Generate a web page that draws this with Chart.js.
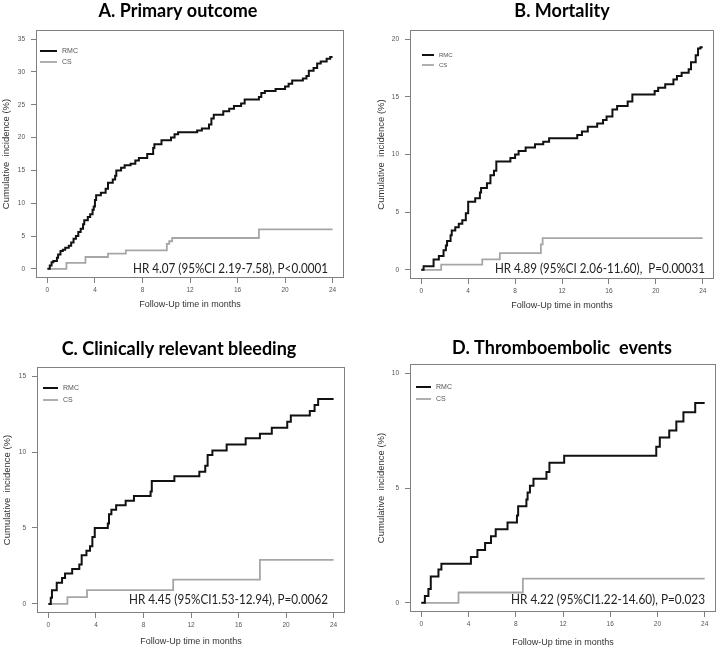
<!DOCTYPE html>
<html lang="en">
<head>
<meta charset="UTF-8">
<title>Cumulative incidence - RMC vs CS</title>
<script src="https://cdn.jsdelivr.net/npm/chart.js@4.4.0/dist/chart.umd.min.js"></script>
<style>
    body { margin: 0; background: #fff; }
    .panel { position: absolute; }
</style>
</head>
<body>
<div class="panel" style="left:0;top:0"><canvas id="chartA" width="362" height="320"></canvas></div>
<div class="panel" style="left:362px;top:0"><canvas id="chartB" width="361" height="320"></canvas></div>
<div class="panel" style="left:0;top:320px"><canvas id="chartC" width="362" height="330"></canvas></div>
<div class="panel" style="left:362px;top:320px"><canvas id="chartD" width="361" height="330"></canvas></div>

<script>
// follow-up months on the x axis
const monthTicks = [0, 4, 8, 12, 16, 20, 24];

// y tick labels per panel
const ticksA = [0, 5, 10, 15, 20, 25, 30, 35];
const ticksB = [0, 5, 10, 15, 20];
const ticksC = [0, 5, 10, 15];
const ticksD = [0, 5, 10];

// step curves: [month, cumulative incidence %]
const rmcA = [[0,0],[0.2,0.5],[0.35,1.0],[0.5,1.2],[0.8,1.7],[0.9,2.2],[1.1,2.7],[1.3,2.9],[1.5,3.2],[1.8,3.5],
    [2.0,4.0],[2.2,4.6],[2.4,5.0],[2.6,5.6],[2.8,6.1],[3.0,6.8],[3.1,7.4],[3.4,7.9],[3.6,8.3],[3.8,9.0],[3.9,9.5],
    [4.0,10.5],[4.1,11.2],[4.5,11.6],[4.9,12.2],[5.1,13.1],[5.5,13.6],[5.7,14.2],[5.8,15.0],[6.2,15.4],[6.5,15.8],
    [7.0,16.0],[7.4,16.5],[7.7,16.9],[8.4,17.5],[8.9,18.4],[9.0,19.0],[9.6,19.6],[10.4,20.0],[10.7,20.5],[11.0,20.8],
    [12.6,21.1],[13.0,21.4],[13.6,22.0],[13.8,22.9],[14.0,23.5],[14.8,24.0],[15.3,24.4],[15.7,24.8],[16.3,25.2],
    [16.6,25.8],[17.8,26.2],[18.0,26.8],[18.3,27.1],[19.2,27.4],[20.0,27.8],[20.3,28.2],[20.6,28.7],[21.5,29.0],
    [21.8,29.4],[22.0,30.2],[22.4,30.6],[22.7,31.3],[23.0,31.6],[23.5,32.0],[23.8,32.3],[24.0,32.3]];
const csA = [[0,0],[1.6,0.9],[3.2,1.8],[5.1,2.3],[6.6,2.8],[10.05,3.8],[10.25,4.2],[10.5,4.7],[17.8,6.0],[24,6.0]];

const rmcB = [[0,0],[0.2,0.3],[1.05,0.9],[1.5,1.2],[1.9,1.7],[2.1,2.1],[2.2,2.5],[2.5,3.0],[2.6,3.4],[2.9,3.7],
    [3.2,4.0],[3.5,4.3],[3.8,4.9],[4.0,5.9],[4.6,6.2],[5.0,6.7],[5.1,7.1],[5.6,7.5],[5.9,8.2],[6.2,8.6],[6.4,9.4],
    [7.6,9.7],[8.0,10.0],[8.3,10.3],[8.9,10.6],[9.7,10.9],[10.4,11.1],[10.9,11.4],[13.3,11.7],[13.7,12.0],[14.2,12.4],
    [15.0,12.7],[15.5,13.0],[15.8,13.3],[16.3,13.9],[16.7,14.2],[17.6,14.6],[18.0,15.2],[19.9,15.5],[20.2,15.8],
    [20.8,16.1],[21.5,16.5],[21.8,16.8],[22.2,17.1],[22.8,17.4],[23.0,18.0],[23.4,18.6],[23.6,19.2],[23.8,19.3],[24,19.3]];
const csB = [[0,0],[1.7,0.45],[5.2,0.9],[6.7,1.45],[10.2,2.2],[10.35,2.75],[24,2.75]];

const rmcC = [[0,0],[0.2,0.4],[0.3,0.9],[0.7,1.4],[1.15,1.7],[1.4,2.0],[2.0,2.3],[2.6,2.6],[2.8,3.2],[3.2,3.5],
    [3.5,3.8],[3.7,4.4],[3.9,5.0],[5.0,5.3],[5.1,5.9],[5.3,6.2],[5.7,6.5],[6.5,6.8],[7.2,7.1],[8.6,7.4],[8.7,8.1],
    [10.6,8.4],[12.7,8.7],[13.2,9.1],[13.4,9.8],[13.8,10.1],[15.0,10.5],[16.6,10.9],[17.8,11.2],[18.8,11.6],
    [20.1,12.0],[20.4,12.4],[22.0,12.7],[22.4,13.1],[22.7,13.5],[24,13.5]];
const csC = [[0,0],[1.6,0.45],[3.25,0.9],[10.5,1.6],[17.8,2.9],[24,2.9]];

const rmcD = [[0,0],[0.3,0.3],[0.6,0.6],[0.8,1.15],[1.45,1.45],[1.7,1.7],[4.2,2.0],[4.75,2.3],[5.4,2.6],[5.9,2.9],
    [6.3,3.2],[7.3,3.5],[8.1,3.8],[8.2,4.2],[8.9,4.5],[9.0,4.8],[9.2,5.1],[9.5,5.4],[10.6,5.7],[10.85,6.1],
    [12.1,6.4],[19.9,6.8],[20.2,7.2],[21.0,7.5],[21.6,7.9],[22.2,8.3],[23.2,8.7],[24,8.7]];
const csD = [[0,0],[3.15,0.45],[8.6,1.05],[24,1.05]];

const SANS = '"Liberation Sans", Arial, sans-serif';

// draws the frame, panel title, legend and HR note
const panelDecor = {
    id: 'panelDecor',
    afterDatasetsDraw(chart, args, o) {
        const { ctx, chartArea: a } = chart;
        ctx.save();
        ctx.strokeStyle = '#808080';
        ctx.lineWidth = 1;
        ctx.strokeRect(a.left + 0.5, a.top + 0.5, a.width - 1, a.height - 1);

        ctx.fillStyle = '#000';
        ctx.textAlign = 'center';
        ctx.textBaseline = 'alphabetic';
        ctx.font = 'bold 18px Lato';
        ctx.fillText(o.title, o.titleX, o.titleY);

        ctx.textAlign = 'right';
        ctx.font = '13px Lato';
        ctx.fillStyle = '#222';
        ctx.fillText(o.hr, o.hrRight, o.hrY, o.hrWidth);

        const lg = o.legend;
        ctx.textAlign = 'left';
        ctx.textBaseline = 'middle';
        ctx.font = lg.size + 'px ' + SANS;
        chart.data.datasets.forEach((ds, i) => {
            const y = a.top + lg.dy + i * lg.gap;
            ctx.strokeStyle = ds.borderColor;
            ctx.lineWidth = ds.borderWidth;
            ctx.beginPath();
            ctx.moveTo(a.left + lg.dx, y);
            ctx.lineTo(a.left + lg.dx + lg.len, y);
            ctx.stroke();
            ctx.fillStyle = '#555';
            ctx.fillText(ds.label, a.left + lg.dx + lg.len + 5, y);
        });
        ctx.restore();
    }
};

function makePanel(id, p) {
    const canvas = document.getElementById(id);
    const W = canvas.width, H = canvas.height;
    const toXY = arr => arr.map(d => ({ x: d[0], y: d[1] }));
    const ymax = p.yTicks[p.yTicks.length - 1];

    return new Chart(canvas, {
        type: 'line',
        data: {
            datasets: [
                { label: 'RMC', data: toXY(p.rmc), borderColor: '#111', borderWidth: 2, stepped: 'before', pointRadius: 0 },
                { label: 'CS', data: toXY(p.cs), borderColor: '#a6a6a6', borderWidth: 1.8, stepped: 'before', pointRadius: 0 }
            ]
        },
        options: {
            responsive: false,
            animation: false,
            devicePixelRatio: 1,
            layout: { padding: { top: p.box.top, left: 0, right: W - p.box.right, bottom: 0 } },
            plugins: {
                legend: { display: false },
                tooltip: { enabled: false },
                panelDecor: p.decor
            },
            scales: {
                x: {
                    type: 'linear',
                    min: -0.96, max: 24.96,
                    afterBuildTicks: s => { s.ticks = monthTicks.map(v => ({ value: v })); },
                    afterFit: s => { s.height = H - p.box.bottom; },
                    grid: { drawOnChartArea: false, drawTicks: true, tickLength: 5, color: '#808080' },
                    border: { display: false },
                    ticks: { autoSkip: false, maxRotation: 0, padding: 3, color: '#555', font: { size: 6.5, family: SANS } },
                    title: { display: true, text: 'Follow-Up time in months', color: '#333',
                        font: { size: 9, family: SANS }, padding: { top: 0, bottom: p.xTitlePad } }
                },
                y: {
                    type: 'linear',
                    min: -0.04 * ymax, max: 1.04 * ymax,
                    afterBuildTicks: s => { s.ticks = p.yTicks.map(v => ({ value: v })); },
                    afterFit: s => { s.width = p.box.left; },
                    grid: { drawOnChartArea: false, drawTicks: true, tickLength: 5, color: '#808080' },
                    border: { display: false },
                    ticks: { autoSkip: false, padding: 6, color: '#555', font: { size: 6.5, family: SANS } },
                    title: { display: true, text: 'Cumulative  incidence (%)', color: '#333',
                        font: { size: 9.5, family: SANS }, padding: { top: p.yTitlePad, bottom: 0 } }
                }
            }
        },
        plugins: [panelDecor]
    });
}

makePanel('chartA', {
    rmc: rmcA, cs: csA, yTicks: ticksA,
    box: { left: 36, right: 344, top: 30, bottom: 278 },
    xTitlePad: 9.6, yTitlePad: 1,
    decor: { title: 'A. Primary outcome', titleX: 178, titleY: 17,
        hr: 'HR 4.07 (95%CI 2.19-7.58), P<0.0001', hrRight: 328, hrY: 273, hrWidth: 195,
        legend: { dx: 4, dy: 21, len: 17, gap: 11, size: 7 } }
});
makePanel('chartB', {
    rmc: rmcB, cs: csB, yTicks: ticksB,
    box: { left: 48, right: 352, top: 30, bottom: 279 },
    xTitlePad: 8.6, yTitlePad: 14,
    decor: { title: 'B. Mortality', titleX: 200, titleY: 17,
        hr: 'HR 4.89 (95%CI 2.06-11.60),  P=0.00031', hrRight: 343, hrY: 273, hrWidth: 210,
        legend: { dx: 12, dy: 25, len: 12, gap: 10, size: 6 } }
});
makePanel('chartC', {
    rmc: rmcC, cs: csC, yTicks: ticksC,
    box: { left: 37, right: 345, top: 47, bottom: 293 },
    xTitlePad: 2.6, yTitlePad: 2,
    decor: { title: 'C. Clinically relevant bleeding', titleX: 179, titleY: 35,
        hr: 'HR 4.45 (95%CI1.53-12.94), P=0.0062', hrRight: 328, hrY: 284, hrWidth: 199,
        legend: { dx: 6, dy: 21, len: 15, gap: 12, size: 7 } }
});
makePanel('chartD', {
    rmc: rmcD, cs: csD, yTicks: ticksD,
    box: { left: 48, right: 354, top: 44, bottom: 292 },
    xTitlePad: 1.6, yTitlePad: 14,
    decor: { title: 'D. Thromboembolic  events', titleX: 200, titleY: 34,
        hr: 'HR 4.22 (95%CI1.22-14.60), P=0.023', hrRight: 343, hrY: 284, hrWidth: 194,
        legend: { dx: 6, dy: 23, len: 15, gap: 12, size: 7 } }
});
</script>
</body>
</html>
